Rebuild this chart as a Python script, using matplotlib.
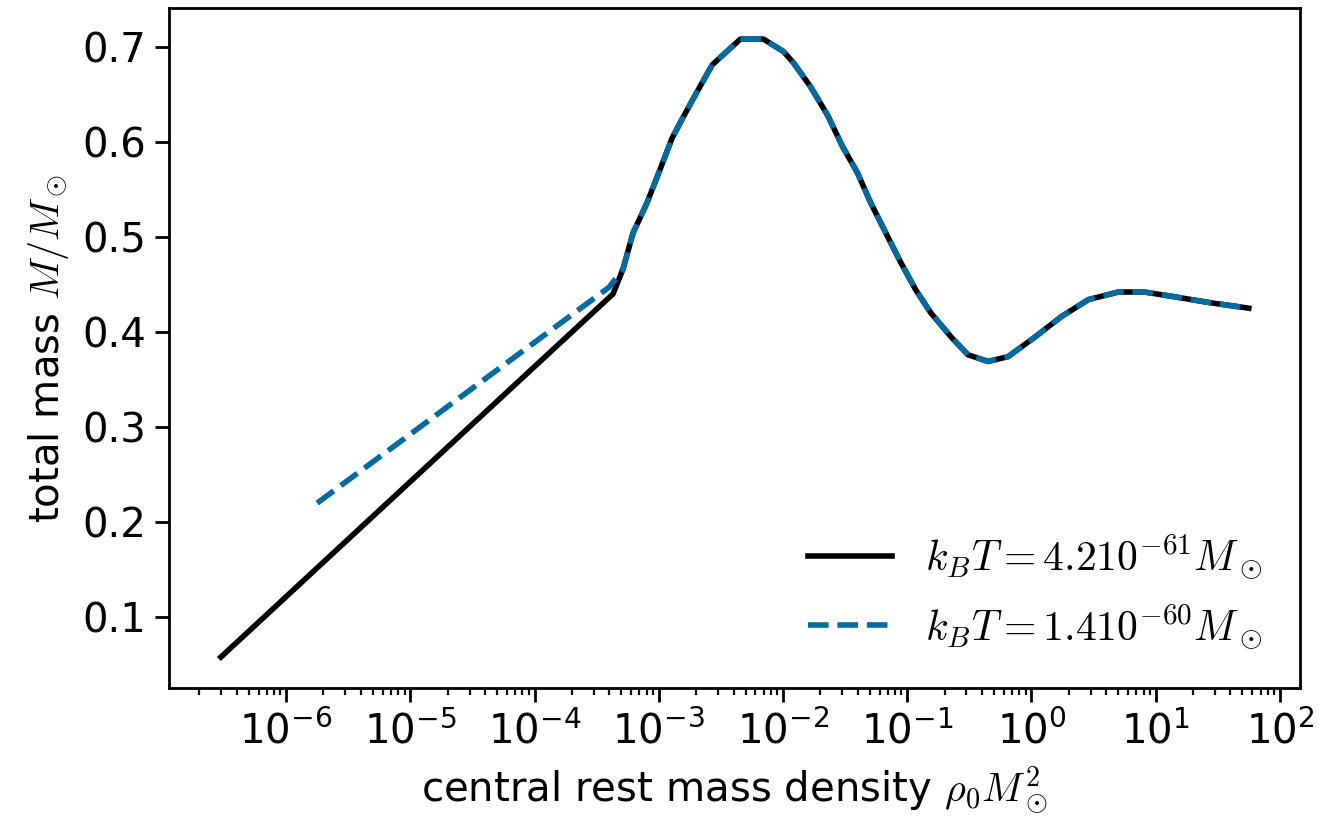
import numpy as np
import matplotlib
matplotlib.use("Agg")
import matplotlib.pyplot as plt
from matplotlib.ticker import LogLocator, NullFormatter

plt.rcParams['mathtext.fontset'] = 'cm'
plt.rcParams['font.family'] = 'DejaVu Sans'

# shared high-density part of both curves (log10 rho0, M)
logrho_common = [-3.288, -3.207, -3.094, -2.989, -2.892, -2.803, -2.690,
                 -2.569, -2.343, -2.157, -1.996, -1.915, -1.778, -1.641, -1.520,
                 -1.399, -1.294, -1.156, -1.051, -0.930, -0.809, -0.648, -0.511,
                 -0.349, -0.188, 0.022, 0.240, 0.458, 0.700, 0.910, 1.152,
                 1.427, 1.750]
mass_common = [0.466, 0.504, 0.536, 0.571, 0.604, 0.626, 0.653,
               0.681, 0.708, 0.708, 0.695, 0.683, 0.658, 0.628, 0.595,
               0.567, 0.536, 0.500, 0.473, 0.444, 0.420, 0.395, 0.376,
               0.369, 0.374, 0.394, 0.416, 0.434, 0.442, 0.442, 0.437,
               0.431, 0.425]

# low-density branches
logrho_a_low = [-6.525, -3.368]
mass_a_low = [0.058, 0.440]
logrho_b_low = [-5.75, -3.40]
mass_b_low = [0.220, 0.447]

labels = [r'$k_BT = 4.2 10^{-61} M_\odot$', r'$k_BT = 1.4 10^{-60} M_\odot$']
xticks = [1e-6, 1e-5, 1e-4, 1e-3, 1e-2, 1e-1, 1e0, 1e1, 1e2]
yticks = [0.1, 0.2, 0.3, 0.4, 0.5, 0.6, 0.7]

x_a = 10**np.array(logrho_a_low + logrho_common)
y_a = mass_a_low + mass_common
x_b = 10**np.array(logrho_b_low + logrho_common)
y_b = mass_b_low + mass_common

fig = plt.figure(figsize=(6.62, 4.11), dpi=200)
ax = fig.add_axes([0.128, 0.163, 0.854, 0.827])

ax.plot(x_a, y_a, color='black', lw=2, label=labels[0])
ax.plot(x_b, y_b, color='#006BA4', lw=2, ls='--', label=labels[1])
ax.set_xscale('log')
xlim = ax.get_xlim()
ax.set_xticks(xticks)
ax.xaxis.set_minor_locator(LogLocator(base=10, subs=np.arange(2, 10), numticks=30))
ax.xaxis.set_minor_formatter(NullFormatter())
ax.set_xlim(xlim)
ax.set_yticks(yticks)

ax.set_xlabel(r'central rest mass density $\rho_0 M_\odot^2$', fontsize=14.5)
ax.set_ylabel(r'total mass $M/M_\odot$', fontsize=14.5)
ax.tick_params(axis='both', which='major', labelsize=14.5, length=5, width=1)
ax.tick_params(axis='both', which='minor', length=2.5, width=0.8)
for s in ax.spines.values():
    s.set_linewidth(1)

ax.legend(loc='lower right', frameon=False, fontsize=15, handlelength=2.0)

fig.savefig('out.png', dpi=200)
